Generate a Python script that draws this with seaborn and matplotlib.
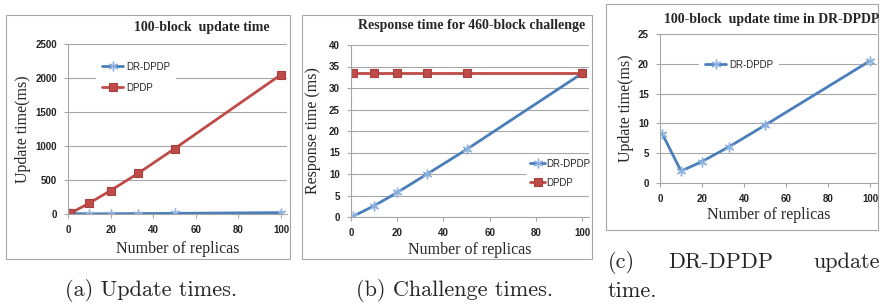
import numpy as np
import pandas as pd
import matplotlib
matplotlib.use("Agg")
import matplotlib.pyplot as plt
import seaborn as sns
from matplotlib.patches import Rectangle

# valores
replicas = [1, 10, 20, 33, 50, 100]
upd_dr = [8.3, 2.0, 3.6, 6.1, 9.7, 20.5]
upd_dpdp = [10, 160, 345, 600, 960, 2050]
chal_dr = [0.2, 2.6, 5.7, 10.0, 15.7, 33.4]
chal_dpdp = [33.5, 33.5, 33.5, 33.5, 33.5, 33.5]

W, H = 880, 306
AZUL = '#4a7ebb'
AZUL_MK = '#8fb1de'
ROJO = '#be4b48'
GRIS = '#a6a6a6'

sns.set_style('white')
plt.rcParams['font.family'] = ['Liberation Sans', 'DejaVu Sans']

fig = plt.figure(figsize=(W / 100, H / 100), dpi=100)


def fx(x):
    return x / W


def fy(y):
    return 1 - y / H


def panel(box, area, xmax, ymax, ystep):
    # marco gris de cada grafica
    fig.patches.append(Rectangle((fx(box[0]), fy(box[3])), (box[2] - box[0]) / W, (box[3] - box[1]) / H,
                                 transform=fig.transFigure, fill=False, ec=GRIS, lw=0.8))
    ax = fig.add_axes([fx(area[0]), fy(area[3]), (area[2] - area[0]) / W, (area[3] - area[1]) / H])
    ax.set_xlim(0, xmax)
    ax.set_ylim(0, ymax)
    ax.set_xticks(np.arange(0, 101, 20))
    ax.set_yticks(np.arange(0, ymax + ystep / 2, ystep))
    ax.grid(axis='y', color=GRIS, lw=0.8)
    ax.set_axisbelow(True)
    for s in ['top', 'right']:
        ax.spines[s].set_visible(False)
    for s in ['left', 'bottom']:
        ax.spines[s].set_color(GRIS)
        ax.spines[s].set_linewidth(0.8)
    ax.tick_params(bottom=True, left=True, direction='out', length=3, width=0.8, color=GRIS,
                   labelsize=7, labelcolor='#222222', pad=5)
    for t in ax.get_xticklabels() + ax.get_yticklabels():
        t.set_fontweight('bold')
    return ax


def serie_dr(ax, y):
    sns.lineplot(x=replicas, y=y, ax=ax, color=AZUL, lw=2, marker=(6, 2, 0), ms=7,
                 mec=AZUL_MK, mew=1.0, label='DR-DPDP')


def serie_dpdp(ax, y):
    sns.lineplot(x=replicas, y=y, ax=ax, color=ROJO, lw=2, marker='s', ms=6,
                 mfc=ROJO, mec='#a83f3c', mew=0.8, label='DPDP')


def etiquetas(ax, xl, yl, xpad, ypad):
    ax.set_xlabel(xl, family='Liberation Serif', size=11.5, labelpad=xpad)
    ax.set_ylabel(yl, family='Liberation Serif', size=11.5, labelpad=ypad)


leg = dict(fontsize=7, frameon=True, facecolor='white', edgecolor='none', framealpha=1,
           borderaxespad=0, loc='upper left', bbox_transform=fig.transFigure)

# (a) tiempos de actualizacion
ax1 = panel((6, 15, 290, 259), (68, 44, 287, 214), 102.8, 2500, 500)
serie_dr(ax1, upd_dr)
serie_dpdp(ax1, upd_dpdp)
etiquetas(ax1, 'Number of replicas', 'Update time(ms)', 4, 3)
ax1.legend(bbox_to_anchor=(fx(96), fy(56)), handlelength=2.2, handletextpad=0.3,
           labelspacing=1.1, borderpad=0.6, **leg)
fig.text(fx(202), fy(28), '100-block  update time', ha='center', va='center',
         family='Liberation Serif', weight='bold', size=10)

# (b) tiempos de desafio
ax2 = panel((302, 15, 592, 259), (351, 45, 589, 217), 103, 40, 5)
serie_dr(ax2, chal_dr)
serie_dpdp(ax2, chal_dpdp)
etiquetas(ax2, 'Number of replicas', 'Response time (ms)', 3, 6)
ax2.legend(bbox_to_anchor=(fx(526), fy(155)), handlelength=1.6, handletextpad=0.1,
           labelspacing=0.9, borderpad=0.4, **leg)
fig.text(fx(472), fy(26), 'Response time for 460-block challenge', ha='center', va='center',
         family='Liberation Serif', weight='bold', size=10)

# (c) DR-DPDP solo
ax3 = panel((606, 4, 878, 230), (660, 34, 877, 183), 103.3, 25, 5)
serie_dr(ax3, upd_dr)
etiquetas(ax3, 'Number of replicas', 'Update time(ms)', 2, 3)
ax3.legend(bbox_to_anchor=(fx(699), fy(54)), handlelength=2.2, handletextpad=0.3,
           borderpad=0.6, **leg)
fig.text(fx(772), fy(19), '100-block  update time in DR-DPDP', ha='center', va='center',
         family='Liberation Serif', weight='bold', size=10)

# leyendas de las subfiguras
cap = dict(family='cmr10', size=16, va='center')
fig.text(fx(151), fy(291), '(a) Update times.', ha='center', **cap)
fig.text(fx(455), fy(291), '(b) Challenge times.', ha='center', **cap)
fig.text(fx(608), fy(262), '(c)', ha='left', **cap)
fig.text(fx(721), fy(262), 'DR-DPDP', ha='center', **cap)
fig.text(fx(880), fy(262), 'update', ha='right', **cap)
fig.text(fx(608), fy(291), 'time.', ha='left', **cap)

fig.savefig('out.png', dpi=100)
